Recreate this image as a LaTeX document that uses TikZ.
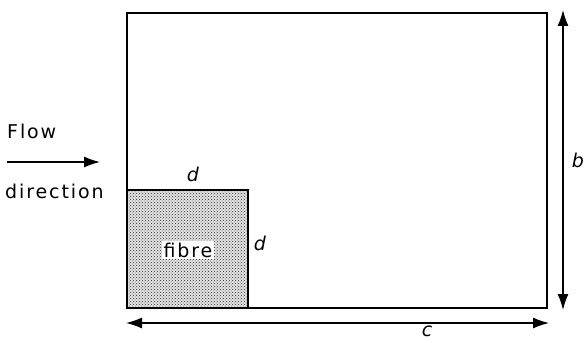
\documentclass[tikz,border=0pt]{standalone}
\usepackage{fontspec}
\setmainfont{DejaVu Sans}
\usetikzlibrary{arrows.meta,patterns}
\begin{document}
\begin{tikzpicture}[x=1pt,y=-1pt,
  txt/.style={font=\fontsize{19}{21}\selectfont\addfontfeatures{LetterSpace=10}, inner sep=0pt},
  lab/.style={font=\fontsize{19}{21}\selectfont\itshape, inner sep=0pt},
  tip/.tip={Latex[length=16pt,width=11pt]},
  dim/.style={line width=1.3pt, tip-tip},
  box/.style={line width=1.5pt}]
\useasboundingbox (0,0) rectangle (585,342);
% channel
\coordinate (tl) at (127,13);
\coordinate (br) at (547,308);
\draw[box] (tl) rectangle (br);
% fibre
\draw[box, preaction={fill=black!10}, pattern=crosshatch dots, pattern color=black!85] (127,190) rectangle (248,308);
\node[txt, fill=white, inner sep=2pt] (fib) at (188,250) {fibre};
% labels d
\node[lab] (dtop) at (193,174) {d};
\node[lab] (dright) at (260,243) {d};
% dimension b
\coordinate (bt) at (563,10);
\coordinate (bb) at (563,310);
\draw[dim] (bt) -- (bb);
\node[lab] (blab) at (578,160) {b};
% dimension c
\coordinate (cl) at (126,323);
\coordinate (cr) at (549,323);
\draw[dim] (cl) -- (cr);
\node[lab] (clab) at (427,331) {c};
% flow
\node[txt, anchor=west] (flow) at (7,131) {Flow};
\node[txt, anchor=west] (dir) at (5,191) {direction};
\coordinate (fa) at (7,162);
\coordinate (fb) at (100,162);
\draw[line width=1.3pt, -tip] (fa) -- (fb);
\end{tikzpicture}
\end{document}
